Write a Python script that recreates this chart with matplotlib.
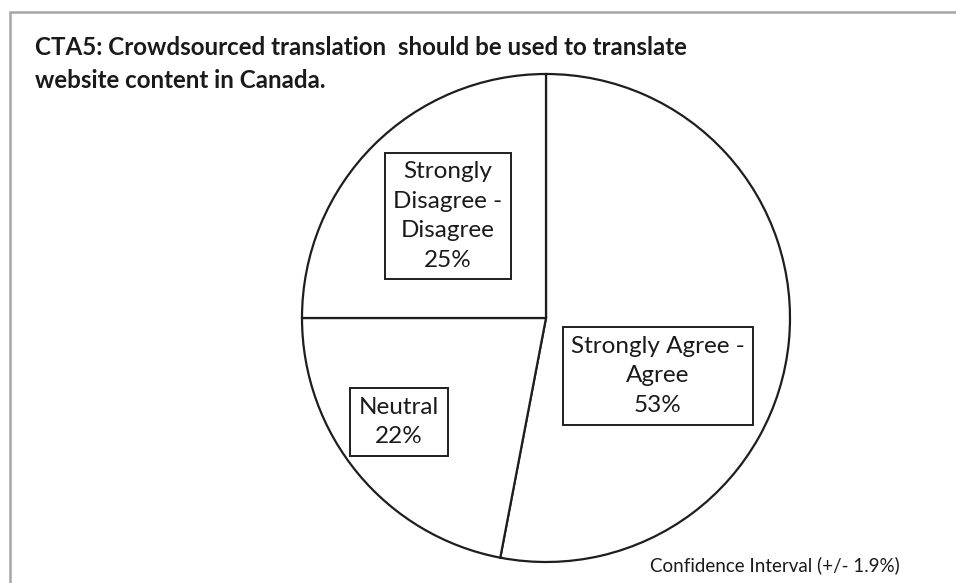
import matplotlib
matplotlib.use("Agg")
import matplotlib.pyplot as plt
from matplotlib.patches import Rectangle

categories = ["Strongly Agree -\nAgree", "Neutral", "Strongly Disagree -\nDisagree"]
box_labels = ["Strongly Agree -\nAgree", "Neutral", "Strongly\nDisagree -\nDisagree"]
values = [53, 22, 25]
title_lines = ["CTA5: Crowdsourced translation  should be used to translate",
               "website content in Canada."]
note = "Confidence Interval (+/- 1.9%)"

W, H = 956, 583
fig = plt.figure(figsize=(W / 100, H / 100), dpi=100)
fig.patch.set_facecolor("white")

# outer border (extends past right/bottom edges)
fig.patches.append(Rectangle((10 / W, -0.05), 1.2, (H - 12) / H + 0.05,
                             transform=fig.transFigure, fill=False,
                             edgecolor="#a6a6a6", linewidth=1.8))

cx, cy, r = 546, 318, 244
ax = fig.add_axes([(cx - r) / W, (H - cy - r) / H, 2 * r / W, 2 * r / H])
wedges, _ = ax.pie(values, startangle=90, counterclock=False,
                   colors=["white"] * 3,
                   wedgeprops=dict(edgecolor="#1e1e1e", linewidth=1.6))
for w in wedges:
    w.set_clip_on(False)
ax.set_xlim(-1, 1)
ax.set_ylim(-1, 1)
ax.set_aspect("equal")
ax.axis("off")

font = "Lato"
label_pos = [((658 - cx) / r, (cy - 376) / r),
             ((399 - cx) / r, (cy - 422) / r),
             ((448 - cx) / r, (cy - 216) / r)]
for (x, y), lab, v in zip(label_pos, box_labels, values):
    ax.text(x, y, f"{lab}\n{v}%", ha="center", va="center",
            fontsize=17.5, family=font, color="#1a1a1a", linespacing=1.5,
            bbox=dict(boxstyle="square,pad=0.35", facecolor="white",
                      edgecolor="#1e1e1e", linewidth=1.4))

for line, base in zip(title_lines, [55, 88]):
    fig.text(35 / W, 1 - base / H, line, ha="left", va="baseline",
             fontsize=17.4, fontweight="bold", family=font, color="#1a1a1a")
fig.text(900 / W, 1 - 565 / H, note, ha="right", va="center", fontsize=13.5,
         family=font, color="#1a1a1a")

fig.savefig("out.png", dpi=100, facecolor="white")
